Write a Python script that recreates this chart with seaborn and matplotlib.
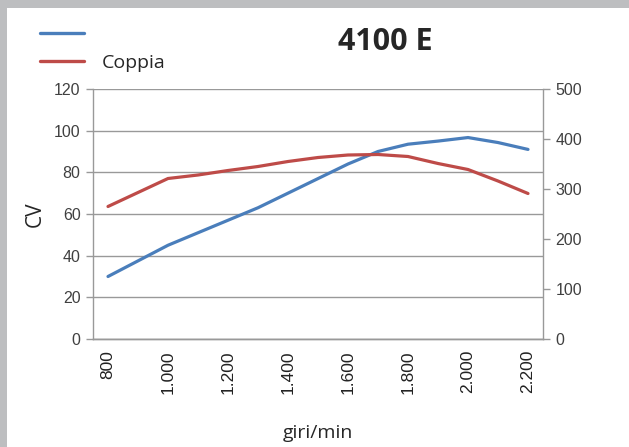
import pandas as pd
import seaborn as sns
import matplotlib.pyplot as plt
from matplotlib.patches import Rectangle
from matplotlib.lines import Line2D

# giri/min (categorie ogni 100 giri)
giri = ['800', '900', '1.000', '1.100', '1.200', '1.300', '1.400', '1.500',
        '1.600', '1.700', '1.800', '1.900', '2.000', '2.100', '2.200']
# potenza in CV (asse sinistro)
cv = [30, 37.5, 45, 51, 57, 63, 70, 77, 84, 90, 93.5, 95, 96.7, 94.3, 91]
# coppia (asse destro)
coppia = [265, 293, 321, 328, 337, 345, 355, 363, 368, 369, 365, 351, 339, 316, 291]

tick_labels = giri[::2]

blu = '#4A7EBB'
rosso = '#BE4B48'
griglia = '#999999'

sns.set_style('white')
plt.rcParams['font.family'] = ['Liberation Sans', 'DejaVu Sans']

df = pd.DataFrame({'giri': giri, 'CV': cv, 'Coppia': coppia})

fig = plt.figure(figsize=(6.29, 4.47), dpi=100)
fig.patch.set_facecolor('#BDBEC0')
# area bianca del grafico (bordo grigio a sinistra e in alto)
fig.patches.append(Rectangle((7 / 629, 0), 1, 1 - 8 / 447, transform=fig.transFigure,
                             facecolor='white', edgecolor='none', zorder=-10))

ax = fig.add_axes([93 / 629, 108 / 447, 450 / 629, 250 / 447])
ax.set_facecolor('none')
ax2 = ax.twinx()

sns.lineplot(data=df, x='giri', y='CV', ax=ax, color=blu, linewidth=2.3, sort=False)
sns.lineplot(data=df, x='giri', y='Coppia', ax=ax2, color=rosso, linewidth=2.3, sort=False)

ax.set_xlim(-0.5, len(giri) - 0.5)
ax.set_ylim(0, 120)
ax.set_yticks(range(0, 121, 20))
ax2.set_ylim(0, 500)
ax2.set_yticks(range(0, 501, 100))
ax.set_xticks(range(0, len(giri), 2))
ax.set_xticklabels(tick_labels, rotation=90, fontsize=12.5)

ax.grid(axis='y', color=griglia, linewidth=1)
ax.set_axisbelow(True)
for a in (ax, ax2):
    for s in a.spines.values():
        s.set_visible(False)
    a.spines['left'].set_visible(a is ax)
    a.spines['right'].set_visible(a is ax2)
    a.spines['bottom'].set_visible(True)
    for s in ('left', 'right', 'bottom'):
        a.spines[s].set_color(griglia)
        a.spines[s].set_linewidth(1)

ax.tick_params(axis='y', length=5, width=1, color=griglia, labelsize=11.5, labelcolor='#404040', pad=4)
ax2.tick_params(axis='y', length=5, width=1, color=griglia, labelsize=11.5, labelcolor='#404040', pad=4)
ax.tick_params(axis='x', length=0, labelcolor='#222222', pad=8)

ax.set_xlabel('giri/min', fontsize=14, family=['Open Sans', 'DejaVu Sans'], labelpad=22)
ax.set_ylabel('CV', fontsize=15, family=['Open Sans', 'DejaVu Sans'], labelpad=6)
ax2.set_ylabel('')

fig.text(385 / 629, 1 - 42 / 447, '4100 E', fontsize=22, fontweight='bold',
         family=['Open Sans', 'DejaVu Sans'], ha='center', va='center')

handles = [Line2D([], [], color=blu, linewidth=2.4), Line2D([], [], color=rosso, linewidth=2.4)]
fig.legend(handles, ['', 'Coppia'], loc='upper left', bbox_to_anchor=(22 / 629, 1 - 8 / 447),
           frameon=False, handlelength=2.3, labelspacing=0.55, handletextpad=0.9,
           prop={'family': ['Open Sans', 'DejaVu Sans'], 'size': 14})

fig.savefig('out.png', dpi=100)
